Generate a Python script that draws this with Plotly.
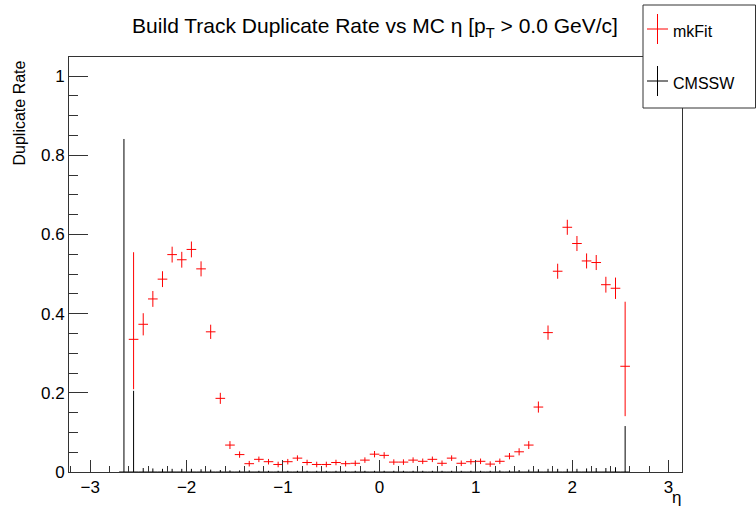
import plotly.graph_objects as go

# ---------------- data ----------------
eta_mkfit = [-2.55, -2.45, -2.35, -2.25, -2.15, -2.05, -1.95, -1.85, -1.75, -1.65,
             -1.55, -1.45, -1.35, -1.25, -1.15, -1.05, -0.95, -0.85, -0.75, -0.65,
             -0.55, -0.45, -0.35, -0.25, -0.15, -0.05, 0.05, 0.15, 0.25, 0.35,
             0.45, 0.55, 0.65, 0.75, 0.85, 0.95, 1.05, 1.15, 1.25, 1.35,
             1.45, 1.55, 1.65, 1.75, 1.85, 1.95, 2.05, 2.15, 2.25, 2.35,
             2.45, 2.55]
rate_mkfit = [0.335, 0.373, 0.437, 0.487, 0.549, 0.536, 0.562, 0.513, 0.354, 0.186,
              0.068, 0.044, 0.021, 0.032, 0.026, 0.019, 0.026, 0.035, 0.024, 0.019,
              0.019, 0.024, 0.021, 0.022, 0.030, 0.045, 0.042, 0.025, 0.025, 0.030,
              0.027, 0.032, 0.022, 0.035, 0.022, 0.026, 0.027, 0.020, 0.027, 0.040,
              0.051, 0.068, 0.164, 0.352, 0.507, 0.618, 0.577, 0.533, 0.529, 0.473,
              0.464, 0.267]
err_up_mkfit = [0.220, 0.028, 0.020, 0.020, 0.020, 0.020, 0.020, 0.019, 0.018, 0.014,
                0.010, 0.008, 0.007, 0.007, 0.007, 0.007, 0.007, 0.007, 0.007, 0.007,
                0.007, 0.007, 0.007, 0.007, 0.007, 0.008, 0.008, 0.007, 0.007, 0.007,
                0.007, 0.007, 0.007, 0.007, 0.007, 0.007, 0.007, 0.007, 0.007, 0.008,
                0.009, 0.010, 0.014, 0.018, 0.019, 0.019, 0.019, 0.019, 0.019, 0.020,
                0.027, 0.163]
err_dn_mkfit = [0.126, 0.028, 0.020, 0.020, 0.020, 0.020, 0.020, 0.019, 0.018, 0.014,
                0.010, 0.008, 0.007, 0.007, 0.007, 0.007, 0.007, 0.007, 0.007, 0.007,
                0.007, 0.007, 0.007, 0.007, 0.007, 0.008, 0.008, 0.007, 0.007, 0.007,
                0.007, 0.007, 0.007, 0.007, 0.007, 0.007, 0.007, 0.007, 0.007, 0.008,
                0.009, 0.010, 0.014, 0.018, 0.019, 0.019, 0.019, 0.019, 0.019, 0.020,
                0.027, 0.126]

eta_cmssw = [-2.65] + eta_mkfit
rate_cmssw = [0.0] * len(eta_cmssw)
err_up_cmssw = [0.841, 0.205, 0.010, 0.009, 0.008, 0.008, 0.008, 0.008, 0.007, 0.006,
                0.005, 0.004, 0.004, 0.004, 0.003, 0.003, 0.003, 0.003, 0.003, 0.003,
                0.003, 0.003, 0.003, 0.003, 0.003, 0.003, 0.003, 0.003, 0.003, 0.003,
                0.003, 0.003, 0.003, 0.003, 0.003, 0.003, 0.003, 0.003, 0.003, 0.004,
                0.004, 0.005, 0.006, 0.007, 0.008, 0.008, 0.008, 0.008, 0.009, 0.010,
                0.010, 0.012, 0.116]
bin_half_width = 0.05

x_ticks = [-3, -2, -1, 0, 1, 2, 3]
y_ticks = [0, 0.2, 0.4, 0.6, 0.8, 1]

# ---------------- layout geometry ----------------
W, H = 756, 509
L, R, T, B = 69, 74, 57, 37
PW, PH = W - L - R, H - T - B


def px(x):
    return (x - L) / PW


def py(y):
    return (H - B - y) / PH


FONT = "Liberation Sans, Arial, Helvetica, sans-serif"

fig = go.Figure()

fig.add_trace(go.Scatter(
    x=eta_cmssw, y=rate_cmssw, mode="markers", name="CMSSW",
    marker=dict(size=1, color="black", opacity=0),
    error_y=dict(type="data", symmetric=False, array=err_up_cmssw,
                 arrayminus=[0.0] * len(eta_cmssw), color="black", thickness=1, width=0),
    error_x=dict(type="constant", value=bin_half_width, color="black", thickness=1, width=0),
    showlegend=False, hoverinfo="skip"))

fig.add_trace(go.Scatter(
    x=eta_mkfit, y=rate_mkfit, mode="markers", name="mkFit",
    marker=dict(size=1, color="#ff0000", opacity=0),
    error_y=dict(type="data", symmetric=False, array=err_up_mkfit,
                 arrayminus=err_dn_mkfit, color="#ff0000", thickness=1, width=0),
    error_x=dict(type="constant", value=bin_half_width, color="#ff0000", thickness=1, width=0),
    showlegend=False, hoverinfo="skip"))

axis_common = dict(showline=True, linecolor="#333333", linewidth=1, mirror=True,
                   ticks="inside", tickcolor="#333333", tickwidth=1,
                   showgrid=False, zeroline=False,
                   tickfont=dict(family=FONT, size=17, color="black"))

fig.update_xaxes(range=[-3.22, 3.14], tickvals=x_ticks, ticklen=12,
                 minor=dict(dtick=0.2, tick0=0, ticklen=6, ticks="inside",
                            tickcolor="#333333", showgrid=False),
                 **axis_common)
fig.update_yaxes(range=[0, 1.048], tickvals=y_ticks, ticklen=19,
                 minor=dict(dtick=0.05, tick0=0, ticklen=9, ticks="inside",
                            tickcolor="#333333", showgrid=False),
                 **axis_common)

shapes = []
annotations = []

# legend box (manual, ROOT style)
shapes.append(dict(type="rect", xref="paper", yref="paper",
                   x0=px(643), x1=px(755.5), y0=py(108), y1=py(5),
                   line=dict(color="#333333", width=1), fillcolor="white", layer="above"))
for (cy, col, label) in [(29, "#ff0000", "mkFit"), (81, "black", "CMSSW")]:
    shapes.append(dict(type="line", xref="paper", yref="paper",
                       x0=px(647), x1=px(668), y0=py(cy), y1=py(cy),
                       line=dict(color=col, width=1), layer="above"))
    shapes.append(dict(type="line", xref="paper", yref="paper",
                       x0=px(657.5), x1=px(657.5), y0=py(cy - 15), y1=py(cy + 15),
                       line=dict(color=col, width=1), layer="above"))
    annotations.append(dict(text=label, xref="paper", yref="paper",
                            x=px(671), y=py(cy + 2), xanchor="left", yanchor="middle",
                            showarrow=False, font=dict(family=FONT, size=16, color="black")))

# axis titles ROOT style
annotations.append(dict(text="Duplicate Rate", xref="paper", yref="paper",
                        x=px(19), y=py(59), xanchor="center", yanchor="top", textangle=-90,
                        showarrow=False, font=dict(family=FONT, size=16, color="black")))
annotations.append(dict(text="η", xref="paper", yref="paper",
                        x=px(683), y=py(497), xanchor="right", yanchor="middle",
                        showarrow=False, font=dict(family=FONT, size=17, color="black")))

fig.update_layout(
    width=W, height=H,
    margin=dict(l=L, r=R, t=T, b=B),
    paper_bgcolor="white", plot_bgcolor="white",
    title=dict(text="Build Track Duplicate Rate vs MC η [p<sub>T</sub> > 0.0 GeV/c]",
               x=375 / W, xanchor="center", y=1 - 26 / H, yanchor="middle",
               font=dict(family=FONT, size=21, color="black")),
    shapes=shapes, annotations=annotations, showlegend=False,
)

fig.write_html("out.html")
